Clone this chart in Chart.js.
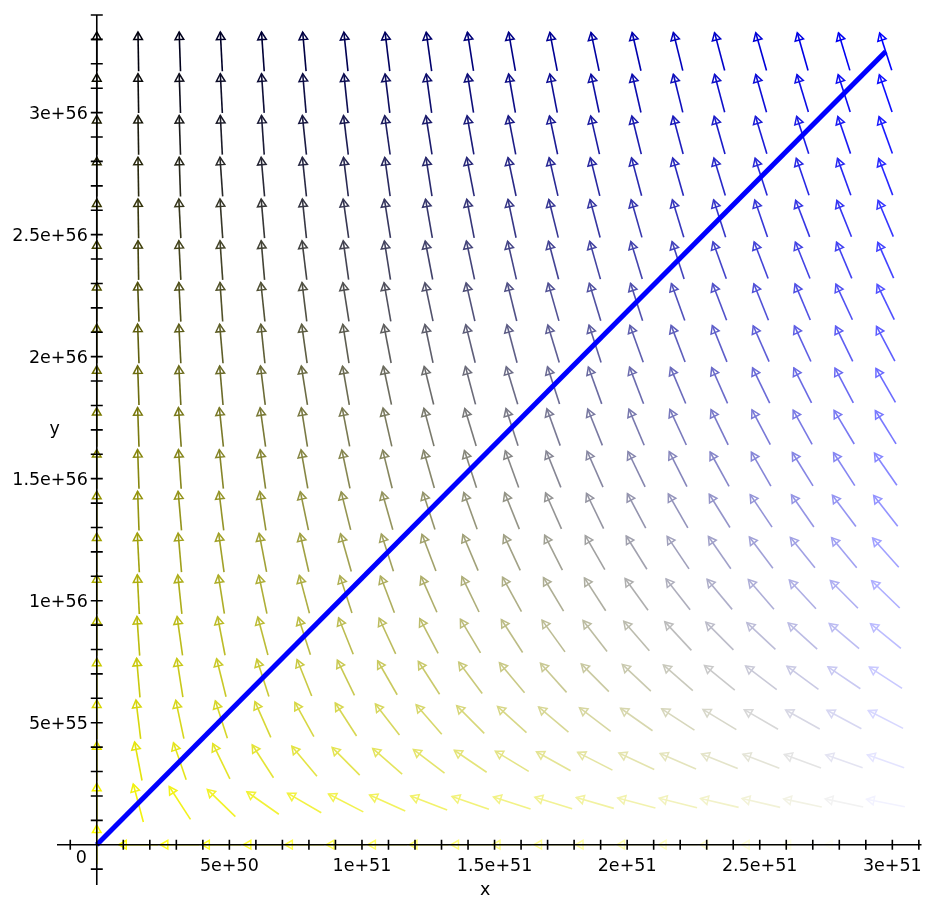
<!DOCTYPE html>
<html>
<head>
<meta charset="utf-8">
<script src="https://cdn.jsdelivr.net/npm/chart.js@4.4.1/dist/chart.umd.min.js"></script>
<style>
  html, body { margin: 0; padding: 0; background: #fff; }
  #wrap { width: 928px; height: 903px; position: relative; }
</style>
</head>
<body>
<div id="wrap"><canvas id="field"></canvas></div>
<script>
// arrow centres of the direction field
const gridX = [0, 1.566e50, 3.132e50, 4.697e50, 6.263e50, 7.829e50, 9.395e50, 1.096e51, 1.2526e51, 1.4092e51,
  1.5658e51, 1.7224e51, 1.879e51, 2.0355e51, 2.1921e51, 2.3487e51, 2.5053e51, 2.6619e51, 2.8184e51, 2.975e51];
const gridY = [0, 1.711e55, 3.421e55, 5.132e55, 6.842e55, 8.553e55, 1.026e56, 1.197e56, 1.368e56, 1.539e56,
  1.711e56, 1.882e56, 2.053e56, 2.224e56, 2.395e56, 2.566e56, 2.737e56, 2.908e56, 3.079e56, 3.25e56];

// arrow lean in degrees away from straight up (towards the left), one row per gridY value
const arrowTilt = [
  [0, 90, 90, 90, 90, 90, 90, 90, 90, 90, 90, 90, 90, 90, 90, 90, 90, 90, 90, 90],
  [0, 15, 33, 46, 55, 60, 63, 66, 69, 71, 72, 73, 74, 75, 76, 77, 77, 78, 78, 79],
  [0, 11, 19, 26, 33, 40, 45, 49, 53, 56, 59, 61, 63, 65, 67, 68, 69, 70, 71, 71],
  [0, 7, 12, 18, 24, 29, 33, 38, 41, 45, 48, 50, 53, 55, 57, 59, 60, 61, 62, 63],
  [0, 5, 9, 14, 18, 22, 26, 30, 33, 37, 40, 42, 45, 47, 49, 51, 53, 54, 56, 57],
  [0, 4, 8, 11, 15, 18, 22, 25, 28, 31, 33, 36, 38, 41, 43, 45, 47, 48, 50, 51],
  [0, 3, 6, 9, 12, 15, 18, 21, 24, 26, 29, 31, 33, 36, 38, 40, 41, 43, 45, 46],
  [0, 3, 5, 8, 11, 13, 16, 18, 21, 23, 25, 27, 30, 32, 34, 35, 37, 39, 40, 42],
  [0, 2, 5, 7, 9, 12, 14, 16, 18, 20, 22, 24, 26, 28, 30, 32, 34, 35, 37, 38],
  [0, 2, 4, 6, 8, 10, 12, 14, 16, 18, 20, 22, 24, 26, 27, 29, 30, 32, 33, 35],
  [0, 2, 4, 6, 8, 9, 11, 13, 15, 17, 18, 20, 22, 23, 25, 26, 28, 29, 31, 32],
  [0, 2, 3, 5, 7, 9, 10, 12, 14, 15, 17, 18, 20, 21, 23, 24, 26, 27, 28, 30],
  [0, 2, 3, 5, 6, 8, 9, 11, 12, 14, 15, 17, 18, 20, 21, 22, 24, 25, 26, 28],
  [0, 2, 3, 4, 6, 7, 9, 10, 12, 13, 14, 16, 17, 18, 20, 21, 22, 23, 25, 26],
  [0, 1, 3, 4, 5, 7, 8, 9, 11, 12, 13, 15, 16, 17, 18, 20, 21, 22, 23, 24],
  [0, 1, 3, 4, 5, 6, 8, 9, 10, 11, 12, 14, 15, 16, 17, 18, 19, 21, 22, 23],
  [0, 1, 2, 4, 5, 6, 7, 8, 9, 11, 12, 13, 14, 15, 16, 17, 18, 19, 20, 21],
  [0, 1, 2, 3, 4, 6, 7, 8, 9, 10, 11, 12, 13, 14, 15, 16, 17, 18, 19, 20],
  [0, 1, 2, 3, 4, 5, 6, 7, 8, 9, 10, 11, 12, 13, 14, 15, 16, 17, 18, 19],
  [0, 1, 2, 3, 4, 5, 6, 7, 8, 9, 10, 11, 12, 13, 14, 15, 16, 16, 17, 18]
];

// the blue curve
const lineX = [0, 2.975e51];
const lineY = [0, 3.25e56];

const xTickValues = [5e50, 1e51, 1.5e51, 2e51, 2.5e51, 3e51];
const xTickLabels = ["5e+50", "1e+51", "1.5e+51", "2e+51", "2.5e+51", "3e+51"];
const yTickValues = [5e55, 1e56, 1.5e56, 2e56, 2.5e56, 3e56];
const yTickLabels = ["5e+55", "1e+56", "1.5e+56", "2e+56", "2.5e+56", "3e+56"];

const xMinorStep = 1e50;
const yMinorStep = 1e55;

// build arrows: shaft as a broken line, head as a rotated triangle
const stepX = gridX[1] - gridX[0];
const stepY = gridY[1] - gridY[0];
const HALF = 0.47;   // half arrow length, share of a grid cell
const HEAD = 0.35;   // where the head triangle sits

const shaftData = [];
const headData = [];
const arrowInfo = [];
gridY.forEach((yv, r) => {
  gridX.forEach((xv, c) => {
    const t = arrowTilt[r][c] * Math.PI / 180;
    const sx = Math.sin(t), cy = Math.cos(t);
    shaftData.push({ x: xv + HALF * stepX * sx, y: yv - HALF * stepY * cy });
    shaftData.push({ x: xv - HALF * stepX * sx, y: yv + HALF * stepY * cy });
    shaftData.push({ x: NaN, y: NaN });
    headData.push({ x: xv - HEAD * stepX * sx, y: yv + HEAD * stepY * cy });
    arrowInfo.push({ r: r, c: c, tilt: arrowTilt[r][c] });
  });
});

// yellow at bottom-left, black top-left, blue top-right, white bottom-right
function arrowColor(i) {
  const a = arrowInfo[i];
  const k = Math.round(255 * (1 - a.r / (gridY.length - 1)));
  const b = Math.round(255 * a.c / (gridX.length - 1));
  return "rgb(" + k + "," + k + "," + b + ")";
}

const mapleAxes = {
  id: "mapleAxes",
  afterDatasetsDraw(chart) {
    const { ctx, chartArea: area } = chart;
    const sx = chart.scales.x, sy = chart.scales.y;
    const ox = sx.getPixelForValue(0), oy = sy.getPixelForValue(0);
    ctx.save();
    ctx.strokeStyle = "#000";
    ctx.lineWidth = 1.6;
    ctx.beginPath();
    ctx.moveTo(area.left, oy); ctx.lineTo(area.right, oy);
    ctx.moveTo(ox, area.top); ctx.lineTo(ox, area.bottom);
    for (let k = Math.ceil(sx.min / xMinorStep); k * xMinorStep <= sx.max * 1.0001; k++) {
      if (k === 0) continue;
      const px = sx.getPixelForValue(k * xMinorStep);
      ctx.moveTo(px, oy - 5); ctx.lineTo(px, oy + 5);
    }
    for (let k = Math.ceil(sy.min / yMinorStep); k * yMinorStep <= sy.max * 1.0001; k++) {
      if (k === 0) continue;
      const py = sy.getPixelForValue(k * yMinorStep);
      ctx.moveTo(ox - 6, py); ctx.lineTo(ox + 6, py);
    }
    ctx.stroke();

    ctx.fillStyle = "#000";
    ctx.font = '17.5px "DejaVu Sans"';
    ctx.textBaseline = "alphabetic";
    ctx.textAlign = "center";
    xTickValues.forEach((v, i) => ctx.fillText(xTickLabels[i], sx.getPixelForValue(v), oy + 26));
    ctx.textAlign = "right";
    yTickValues.forEach((v, i) => ctx.fillText(yTickLabels[i], ox - 9, sy.getPixelForValue(v) + 6));
    ctx.fillText("0", ox - 10, oy + 18);

    ctx.textAlign = "center";
    ctx.fillText("x", (area.left + area.right) / 2 - 4, oy + 50);
    ctx.fillText("y", ox - 42, sy.getPixelForValue(1.7e56) + 4);
    ctx.restore();
  }
};

new Chart(document.getElementById("field"), {
  type: "scatter",
  data: {
    datasets: [
      {
        type: "line",
        label: "curve",
        data: lineX.map((v, i) => ({ x: v, y: lineY[i] })),
        borderColor: "#0000ff",
        borderWidth: 5,
        pointRadius: 0,
        order: 0
      },
      {
        type: "scatter",
        label: "heads",
        data: headData,
        pointStyle: "triangle",
        pointRadius: 5,
        pointRotation: ctx => -arrowInfo[ctx.dataIndex].tilt,
        pointBorderColor: ctx => arrowColor(ctx.dataIndex),
        pointBackgroundColor: "rgba(0,0,0,0)",
        pointBorderWidth: 1.5,
        order: 1
      },
      {
        type: "line",
        label: "shafts",
        data: shaftData,
        borderColor: "#888",
        borderWidth: 1.6,
        pointRadius: 0,
        spanGaps: false,
        segment: {
          borderColor: ctx => arrowColor(Math.floor(ctx.p0DataIndex / 3))
        },
        order: 2
      }
    ]
  },
  options: {
    responsive: true,
    maintainAspectRatio: false,
    animation: false,
    events: [],
    layout: { padding: { left: 57, top: 15, right: 0, bottom: 18 } },
    plugins: { legend: { display: false }, tooltip: { enabled: false } },
    scales: {
      x: { type: "linear", display: false, min: -1.5e50, max: 3.11e51 },
      y: { type: "linear", display: false, min: -1.65e55, max: 3.4e56 }
    }
  },
  plugins: [mapleAxes]
});
</script>
</body>
</html>
